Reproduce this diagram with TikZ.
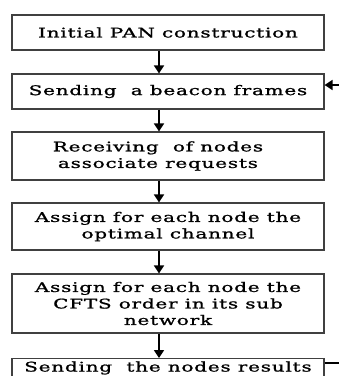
\documentclass[tikz,border=0pt]{standalone}
\usepackage{fontspec}
\setmainfont{DejaVu Serif}[FakeStretch=1.5,LetterSpace=6,FakeBold=1.2]
\usetikzlibrary{arrows.meta}
\begin{document}
\begin{tikzpicture}[x=1bp,y=-1bp,
  stepbox/.style={draw=black!75,line width=1.1bp,minimum width=312bp,
    align=center,inner sep=0pt,font=\fontsize{13.3bp}{16.5bp}\selectfont},
  flow/.style={line width=1.7bp,-{Triangle[width=10bp,length=8bp]}},
  link/.style={line width=1.3bp}]
\useasboundingbox (0,0) rectangle (339,376);
\clip (0,0) rectangle (339,376);

\node[stepbox,minimum height=35bp] (b1) at (168,32.5) {Initial PAN construction};
\node[stepbox,minimum height=35bp] (b2) at (168,91.5) {Sending\ \ a beacon frames};
\node[stepbox,minimum height=48bp] (b3) at (168,156)
  {Receiving\ \ of nodes\hspace*{20bp}\\associate requests\hspace*{20bp}};
\node[stepbox,minimum height=47bp] (b4) at (168,226.5)
  {Assign for each node the\\optimal channel};
\node[stepbox,minimum height=59bp] (b5) at (168,303.5)
  {Assign for each node the\\CFTS order in its sub\\network};
\node[stepbox,anchor=north,text height=13bp,text depth=30bp] (b6) at (168,358)
  {Sending\ \ the nodes results};

% vertical flow runs slightly left of the box centres
\coordinate (axis) at (159,0);
\draw[flow] (b1.south -| axis) -- (b2.north -| axis);
\draw[flow] (b2.south -| axis) -- (b3.north -| axis);
\draw[flow] (b3.south -| axis) -- (b4.north -| axis);
\draw[flow] (b4.south -| axis) -- (b5.north -| axis);
\draw[flow] (b5.south -| axis) -- (b6.north -| axis);

% feedback loop entering from the right
\coordinate (loopin) at (345,85);
\coordinate (loopout) at (345,363);
\draw[flow] (loopin) -- (b2.east |- loopin);
\draw[link] (b6.east |- loopout) -- (loopout);
\end{tikzpicture}
\end{document}
